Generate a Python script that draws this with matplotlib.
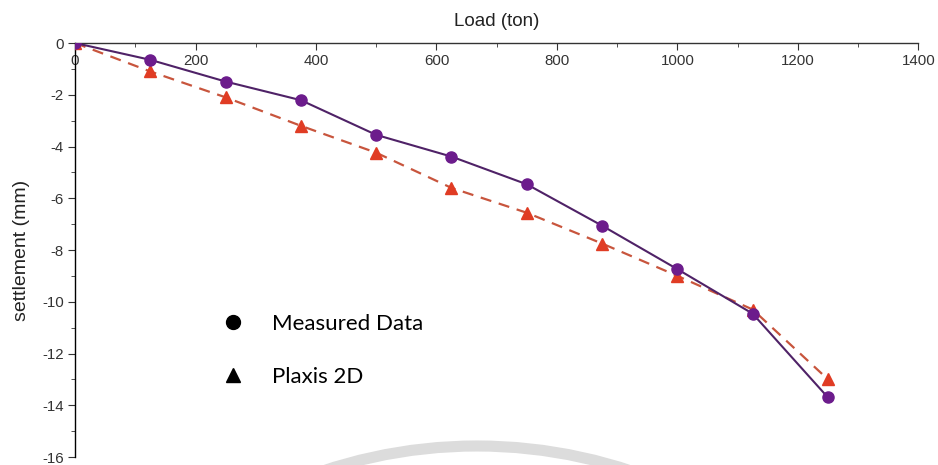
import matplotlib.pyplot as plt
import numpy as np
from matplotlib.lines import Line2D
from matplotlib.patches import Arc
from matplotlib.ticker import MultipleLocator

# load steps (ton)
load = [0, 125, 250, 375, 500, 625, 750, 875, 1000, 1125, 1250]
# settlement (mm)
measured = [0, -0.65, -1.49, -2.21, -3.55, -4.39, -5.46, -7.06, -8.74, -10.46, -13.7]
plaxis = [0, -1.1, -2.1, -3.2, -4.24, -5.6, -6.56, -7.75, -9.0, -10.3, -13.0]

x_ticks = [0, 200, 400, 600, 800, 1000, 1200, 1400]
y_ticks = [0, -2, -4, -6, -8, -10, -12, -14, -16]

def plot_graph():
    plt.rcParams["font.family"] = ["Liberation Sans", "DejaVu Sans"]
    plt.rcParams["axes.unicode_minus"] = False
    fig = plt.figure(figsize=(9.38, 4.65), dpi=100)
    ax = fig.add_axes([0.080, 0.0172, 0.899, 0.8903])

    ax.plot(load, plaxis, color="#c8553d", linestyle=(0, (5, 3.5)), linewidth=1.6,
            marker="^", markersize=8.5, markerfacecolor="#e03c24", markeredgecolor="#e03c24", zorder=3)
    ax.plot(load, measured, color="#4f2267", linewidth=1.5,
            marker="o", markersize=8, markerfacecolor="#6c1c8c", markeredgecolor="#6c1c8c", zorder=4)

    ax.set_xlim(0, 1400)
    ax.set_ylim(-16, 0)
    ax.set_xticks(x_ticks)
    ax.set_yticks(y_ticks)
    ax.xaxis.set_minor_locator(MultipleLocator(100))
    ax.yaxis.set_minor_locator(MultipleLocator(1))

    ax.spines["right"].set_visible(False)
    ax.spines["bottom"].set_visible(False)
    ax.spines["top"].set_linewidth(1.0)
    ax.spines["left"].set_linewidth(1.0)
    ax.spines["top"].set_color("#333333")
    ax.spines["left"].set_color("black")

    ax.tick_params(axis="x", which="both", top=True, bottom=False, labeltop=True, labelbottom=False,
                   direction="in", labelsize=10.8, colors="#333333")
    ax.tick_params(axis="x", which="major", length=5, pad=-18)
    ax.tick_params(axis="x", which="minor", length=3)
    ax.tick_params(axis="y", which="both", direction="out", labelsize=10.8, colors="#333333")
    ax.tick_params(axis="y", which="major", length=5, pad=3)
    ax.tick_params(axis="y", which="minor", length=3)

    ax.set_xlabel("Load (ton)", fontsize=13.5, color="#222222", va="center")
    ax.xaxis.set_label_coords(0.5, 1.053)
    ax.set_ylabel("settlement (mm)", fontsize=14, color="#222222", va="center")
    ax.yaxis.set_label_coords(-0.064, 0.5)

    handles = [Line2D([], [], linestyle="none", marker="o", markersize=10, color="black"),
               Line2D([], [], linestyle="none", marker="^", markersize=10, color="black")]
    ax.legend(handles, ["Measured Data", "Plaxis 2D"], loc="center left",
              bbox_to_anchor=(0.2366, 0.246), bbox_transform=fig.transFigure,
              frameon=False, borderpad=0, borderaxespad=0, handlelength=1.0,
              handletextpad=1.26, labelspacing=1.5,
              prop={"family": ["Lato", "DejaVu Sans"], "size": 16})

    # faint watermark arc near the bottom
    r = 488
    arc = Arc((477 / 938, 1 - 934 / 465), 2 * r / 938, 2 * r / 465, theta1=60, theta2=120,
              transform=fig.transFigure, color="#dcdcdc", linewidth=8, zorder=0.5)
    fig.add_artist(arc)

    fig.savefig("out.png", dpi=100)

def main():
    plot_graph()

if __name__ == "__main__":
    main()
